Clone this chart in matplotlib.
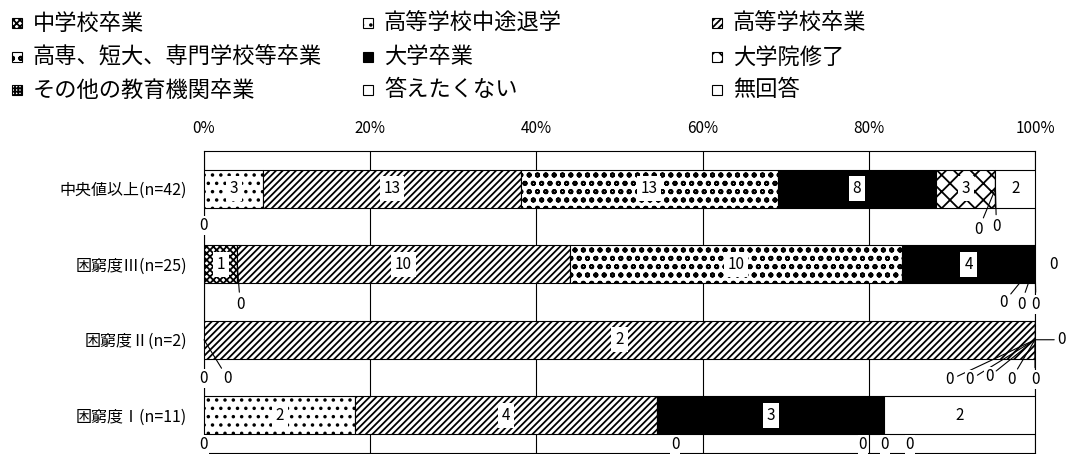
import matplotlib
matplotlib.use('Agg')
import matplotlib.pyplot as plt
from matplotlib.patches import Rectangle
import numpy as np

plt.rcParams['font.family'] = ['Noto Sans CJK JP', 'DejaVu Sans']
plt.rcParams['hatch.linewidth'] = 1.3
plt.rcParams['hatch.color'] = 'black'

# --- data (counts per group) ---
categories = ['中央値以上(n=42)', '困窮度Ⅲ(n=25)', '困窮度Ⅱ(n=2)', '困窮度Ⅰ(n=11)']
series_names = ['中学校卒業', '高等学校中途退学', '高等学校卒業', '高専、短大、専門学校等卒業',
                '大学卒業', '大学院修了', 'その他の教育機関卒業', '答えたくない', '無回答']

junior_high = [0, 1, 0, 0]
high_dropout = [3, 0, 0, 2]
high_school = [13, 10, 2, 4]
college = [13, 10, 0, 0]
university = [8, 4, 0, 3]
graduate = [3, 0, 0, 0]
other_school = [0, 0, 0, 0]
no_answer_wish = [0, 0, 0, 0]
no_response = [2, 0, 0, 2]

series_values = [junior_high, high_dropout, high_school, college, university,
                 graduate, other_school, no_answer_wish, no_response]

# --- styles ---
hatches = ['xxxxx', '..', '/////', 'oo', '', 'xx', '+++++', '.', '']
faces = ['white', 'white', 'white', 'white', 'black', 'white', 'white', 'white', 'white']

# where the "0" labels sit relative to their segment (pixels), and whether a leader line is drawn
zero_offsets = {
    (0, 0): (0, -37, False), (0, 6): (-17, -41, True), (0, 7): (1, -38, True),
    (1, 1): (3, -40, True), (1, 5): (18, 0, False), (1, 6): (-31, -38, True),
    (1, 7): (-14, -40, True), (1, 8): (1, -40, True),
    (2, 0): (-1, -39, False), (2, 1): (24, -39, True), (2, 3): (27, 0, True),
    (2, 4): (-85, -40, True), (2, 5): (-65, -40, True), (2, 6): (-46, -37, True),
    (2, 7): (-24, -40, True), (2, 8): (0, -40, True),
    (3, 0): (0, -29, False), (3, 3): (18, -29, True), (3, 5): (-21, -29, False),
    (3, 6): (1, -29, True), (3, 7): (26, -29, False),
}

W, H = 1068, 454
fig = plt.figure(figsize=(W / 100, H / 100), dpi=100)
ax = fig.add_axes([204 / W, 1 / H, 831 / W, 302 / H])

totals = np.sum(np.array(series_values), axis=0).astype(float)
y = np.arange(len(categories))
left = np.zeros(len(categories))

for s, (vals, hatch, fc) in enumerate(zip(series_values, hatches, faces)):
    share = np.array(vals) / totals * 100
    ax.barh(y, share, left=left, height=0.5, color=fc, hatch=hatch,
            edgecolor='black', linewidth=0.8, zorder=3)
    for r, v in enumerate(vals):
        if v > 0:
            ax.text(left[r] + share[r] / 2, r, str(v), ha='center', va='center', fontsize=11,
                    zorder=6, bbox=dict(boxstyle='square,pad=0.25', fc='white', ec='none'))
        elif (r, s) in zero_offsets:
            dx, dy, leader = zero_offsets[(r, s)]
            arrow = dict(arrowstyle='-', lw=0.8, color='black', shrinkA=2, shrinkB=0) if leader else None
            ax.annotate('0', xy=(left[r], r), xytext=(dx, dy), textcoords='offset pixels',
                        ha='center', va='center', fontsize=11, zorder=6, annotation_clip=False,
                        arrowprops=arrow,
                        bbox=dict(boxstyle='square,pad=0.05', fc='white', ec='none'))
    left += share

ax.set_xlim(0, 100)
ax.set_ylim(3.5, -0.5)
ax.set_xticks(range(0, 101, 20))
ax.set_xticklabels([f'{t}%' for t in range(0, 101, 20)], fontsize=11)
ax.set_yticks(y)
ax.set_yticklabels(categories, fontsize=11.5)
ax.tick_params(axis='x', top=True, labeltop=True, bottom=False, labelbottom=False, length=0, pad=10)
ax.tick_params(axis='y', length=0, pad=12)
ax.xaxis.grid(True, color='black', linewidth=0.8)
ax.set_axisbelow(True)
for sp in ax.spines.values():
    sp.set_color('black')
    sp.set_linewidth(0.8)

# legend drawn by hand: three columns, three rows
lax = fig.add_axes([0, 0, 1, 1])
lax.set_xlim(0, W)
lax.set_ylim(H, 0)
lax.axis('off')
col_x = [12, 363, 712]
row_y = [23, 57, 90]
for i, name in enumerate(series_names):
    cx, ry = col_x[i % 3], row_y[i // 3]
    lax.add_patch(Rectangle((cx, ry - 5), 10, 10, facecolor=faces[i], hatch=hatches[i],
                            edgecolor='black', linewidth=0.8))
    lax.text(cx + 21, ry, name, ha='left', va='center', fontsize=16)

fig.savefig('out.png', dpi=100)
